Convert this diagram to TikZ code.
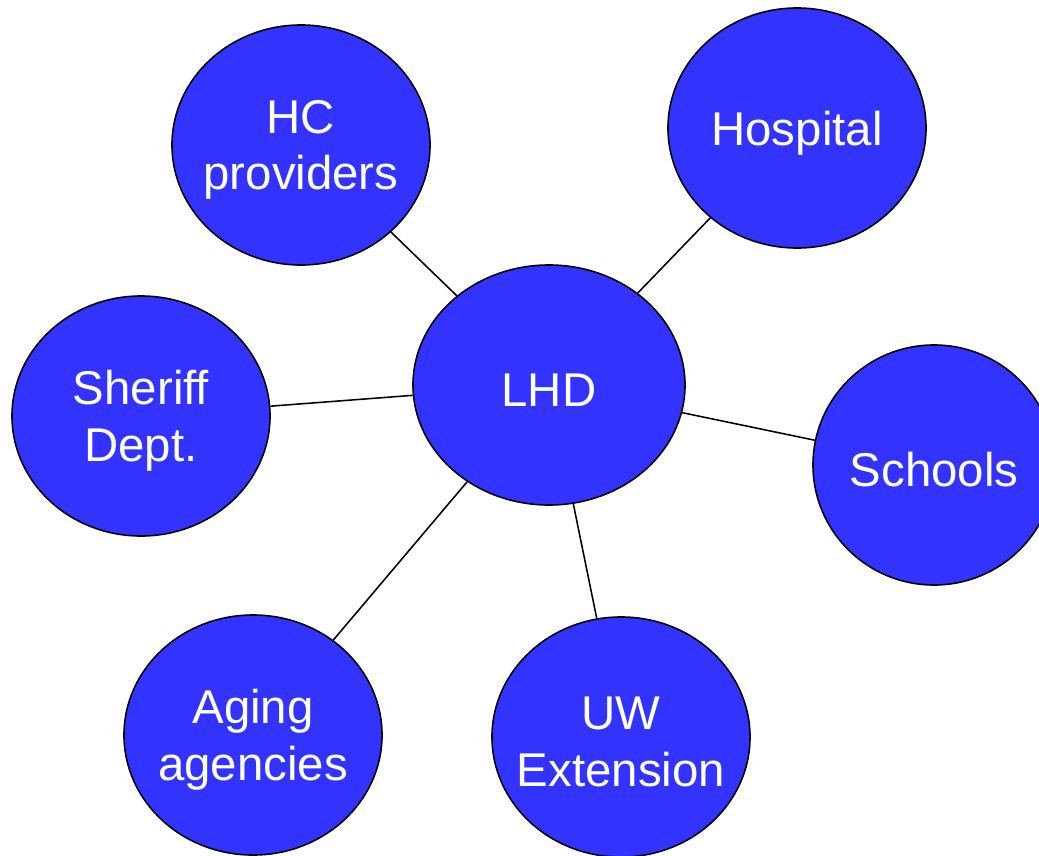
\documentclass[tikz,border=0pt]{standalone}
\usepackage{fontspec}
\setmainfont{Liberation Sans}
\usepackage{xcolor}
\usepackage{tikz}
\usetikzlibrary{shapes.geometric}
\definecolor{nodeblue}{RGB}{51,51,255}
\tikzset{
  partner/.style={
      draw=black,
      fill=nodeblue,
      ellipse,
      line width=1.1pt,
      inner sep=0pt,
      minimum width=6.45cm,
      minimum height=6cm,
      label={[partnertext]center:#1}
  },
  partnertext/.style={
      text=white,
      align=center,
      inner sep=0pt,
      yshift=-0.12cm,
      font=\fontsize{33.7}{40.4}\selectfont
  },
  link/.style={line width=1.1pt}
}

\begin{document}
\begin{tikzpicture}[x=0.025cm, y=-0.025cm]
      \useasboundingbox (0,0) rectangle (1039,855);
      % Partner circles
      \node (lhd) [partner={LHD}, minimum width=6.8cm] at (549,385) {};
      \node (hc) [partner={HC\\providers}] at (301,145) {};
      \node (hospital) [partner={Hospital}] at (797,128) {};
      \node (sheriff) [partner={Sheriff\\Dept.}] at (141,416) {};
      \node (schools) [partner={Schools}, minimum width=6.05cm] at (934,465) {};
      \node (aging) [partner={Aging\\agencies}] at (253,735) {};
      \node (uw) [partner={UW\\Extension}] at (621,737) {};

      % Connections
      \draw[link] (hc) -- (lhd);
      \draw[link] (hospital) -- (lhd);
      \draw[link] (sheriff) -- (lhd);
      \draw[link] (schools) -- (lhd);
      \draw[link] (aging) -- (lhd);
      \draw[link] (uw) -- (lhd);
    \end{tikzpicture}
\end{document}
